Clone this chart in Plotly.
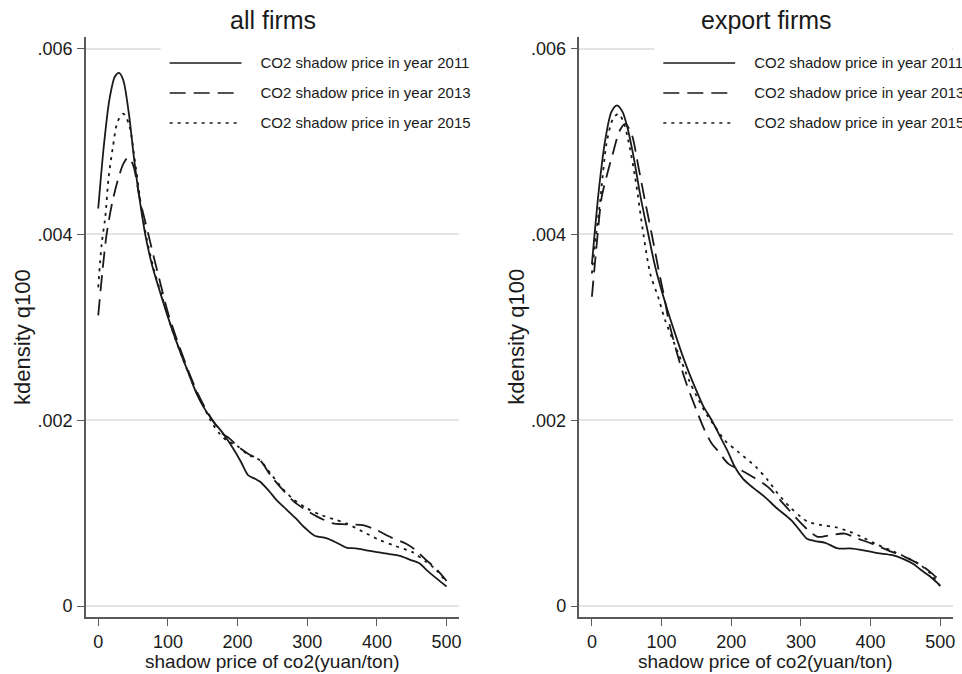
import plotly.graph_objects as go

# ---------------- data ----------------
panel_titles = ["all firms", "export firms"]
series_names = ["CO2 shadow price in year 2011",
                "CO2 shadow price in year 2013",
                "CO2 shadow price in year 2015"]
x_ticks = [0, 100, 200, 300, 400, 500]
y_ticks = [0, 0.002, 0.004, 0.006]
y_tick_labels = ["0", ".002", ".004", ".006"]
x_title = "shadow price of co2(yuan/ton)"
y_title = "kdensity q100"

# all firms
all_2011_x = [0, 8, 16, 24, 30, 36, 44, 52, 60, 68, 78, 90, 105, 117, 130, 141, 153, 165, 180, 195, 205, 215,
              225, 232, 245, 256, 270, 284, 297, 310, 327, 340, 356, 370, 385, 400, 418, 433, 447, 461, 471, 485, 500]
all_2011_y = [.00428, .00495, .00545, .00570, .00574, .00566, .00530, .00478, .00435, .00398, .00365, .00335,
              .00300, .00275, .00250, .00229, .00212, .00199, .00185, .00168, .00155, .00141, .00137, .00134,
              .00124, .00114, .00104, .00094, .00084, .00076, .00073, .00069, .00063, .00062, .00060, .00058,
              .00056, .00054, .00050, .00046, .00039, .00030, .00021]

all_2013_x = [0, 6, 12, 20, 28, 36, 43, 50, 60, 72, 80, 90, 100, 110, 120, 130, 141, 153, 165, 178, 189, 200,
              215, 232, 248, 265, 280, 299, 315, 325, 337, 355, 380, 399, 420, 442, 456, 470, 485, 500]
all_2013_y = [.00313, .00360, .00400, .00434, .00458, .00476, .00483, .00475, .00437, .00400, .00375, .00345,
              .00316, .00293, .00272, .00252, .00232, .00214, .00199, .00186, .00180, .00172, .00164, .00157,
              .00140, .00125, .00113, .00103, .00096, .000925, .00089, .00088, .00087, .00082, .00074, .00067,
              .00060, .00050, .00040, .00027]

all_2015_x = [0, 5, 10, 15, 21, 28, 36, 44, 54, 62, 70, 80, 92, 105, 117, 130, 141, 153, 165, 175, 185, 200,
              215, 232, 248, 265, 280, 300, 320, 340, 356, 380, 404, 425, 451, 470, 485, 500]
all_2015_y = [.00343, .00390, .00418, .00462, .00494, .00522, .00530, .00519, .00472, .00428, .00394, .00362,
              .00332, .00300, .00275, .00250, .00230, .00212, .00195, .00185, .00178, .00172, .00163, .00157,
              .00142, .00126, .00115, .00105, .00098, .00093, .00089, .00080, .00071, .00065, .00058, .00048,
              .00039, .00025]

# export firms
exp_2011_x = [0, 10, 19, 28, 36, 44, 52, 60, 70, 81, 90, 98, 110, 120, 129, 140, 150, 160, 172, 185, 196, 205,
              217, 232, 248, 266, 286, 300, 308, 320, 335, 353, 370, 390, 410, 430, 449, 462, 472, 485, 500]
exp_2011_y = [.00368, .00448, .00501, .00532, .00539, .00532, .00512, .00483, .00440, .00400, .00368, .00345,
              .00315, .00292, .00272, .00250, .00232, .00215, .00200, .00181, .00165, .00150, .00137, .00127,
              .001175, .00105, .000925, .00080, .000728, .00070, .00068, .00062, .00062, .00060, .00057, .00055,
              .00050, .00045, .00039, .00032, .00022]

exp_2013_x = [0, 7, 14, 22, 30, 40, 48, 57, 67, 76, 86, 96, 104, 110, 120, 134, 150, 162, 172, 181, 196, 215,
              233, 253, 275, 296, 310, 324, 340, 363, 380, 401, 425, 449, 470, 485, 500]
exp_2013_y = [.00333, .00390, .00440, .00465, .00487, .00512, .00519, .00508, .00472, .00437, .00400, .00361,
              .00332, .00308, .00278, .00243, .00211, .00189, .00175, .00167, .00153, .00146, .00138, .00128,
              .00110, .000925, .00082, .000745, .00076, .00078, .00073, .000674, .00060, .00053, .00045, .00037,
              .00027]

exp_2015_x = [0, 6, 12, 21, 30, 38, 45, 52, 62, 74, 84, 95, 105, 124, 140, 153, 165, 177, 191, 210, 235, 252,
              267, 285, 300, 310, 330, 349, 370, 387, 410, 434, 455, 472, 487, 500]
exp_2015_y = [.00358, .00400, .00437, .00498, .00524, .00530, .00522, .00502, .00462, .00400, .00357, .00333,
              .00308, .00272, .00242, .00222, .00206, .00193, .00178, .00166, .00150, .00136, .00121, .00106,
              .00096, .000907, .00087, .00085, .00080, .000745, .00066, .000584, .00051, .00044, .00034, .00021]

panels = [
    [(all_2011_x, all_2011_y), (all_2013_x, all_2013_y), (all_2015_x, all_2015_y)],
    [(exp_2011_x, exp_2011_y), (exp_2013_x, exp_2013_y), (exp_2015_x, exp_2015_y)],
]

# ---------------- styling / layout ----------------
W, H = 962, 674
FONT = "Arial, 'Liberation Sans', Helvetica, sans-serif"
INK = "#1a1a1a"
AXIS = "#5a5a5a"
GRID = "#e4e4e4"
dashes = ["solid", "16px,8px", "3px,5px"]

def px(x):
    return x / W

def py(y):
    return 1 - y / H

plot_left = [86, 580.7]
plot_w = 374.3
plot_top, plot_bot = 37, 617
x_range = [-17.8, 518.3]
y_range = [-0.000118, 0.006126]

fig = go.Figure()
for p, series in enumerate(panels):
    xa = "x" if p == 0 else "x2"
    ya = "y" if p == 0 else "y2"
    for s, (xs, ys) in enumerate(series):
        fig.add_trace(go.Scatter(
            x=xs, y=ys, mode="lines", name=series_names[s], showlegend=False,
            line=dict(color=INK, width=1.8, dash=dashes[s], shape="spline", smoothing=0.8),
            xaxis=xa, yaxis=ya, hoverinfo="skip"))

axis_common_x = dict(range=x_range, tickvals=x_ticks, ticks="outside", ticklen=7, tickwidth=1.3,
                     tickcolor=AXIS, showline=True, linecolor=AXIS, linewidth=1.5, showgrid=False,
                     zeroline=False, tickfont=dict(family=FONT, size=18, color=INK), ticklabelstandoff=1)
axis_common_y = dict(range=y_range, tickvals=y_ticks, ticktext=y_tick_labels, ticks="outside", ticklen=7,
                     tickwidth=1.3, tickcolor=AXIS, showline=True, linecolor=AXIS, linewidth=1.5,
                     showgrid=True, gridcolor=GRID, gridwidth=1.5, zeroline=False,
                     tickfont=dict(family=FONT, size=18, color=INK), ticklabelstandoff=1)

fig.update_layout(
    width=W, height=H, margin=dict(l=0, r=0, t=0, b=0),
    paper_bgcolor="white", plot_bgcolor="white", showlegend=False,
    xaxis=dict(domain=[px(plot_left[0]), px(plot_left[0] + plot_w)], anchor="y", **axis_common_x),
    yaxis=dict(domain=[py(plot_bot), py(plot_top)], anchor="x", **axis_common_y),
    xaxis2=dict(domain=[px(plot_left[1]), px(plot_left[1] + plot_w)], anchor="y2", **axis_common_x),
    yaxis2=dict(domain=[py(plot_bot), py(plot_top)], anchor="x2", **axis_common_y),
)

shapes = []
annotations = []
for p in range(2):
    L = plot_left[p]
    # subplot title
    annotations.append(dict(text=panel_titles[p], x=px(L + plot_w / 2), y=py(20), xref="paper", yref="paper",
                            xanchor="center", yanchor="middle", showarrow=False,
                            font=dict(family=FONT, size=25, color=INK)))
    # axis titles
    annotations.append(dict(text=x_title, x=px(L + plot_w / 2 - 0.5), y=py(661), xref="paper", yref="paper",
                            xanchor="center", yanchor="middle", showarrow=False,
                            font=dict(family=FONT, size=19, color=INK)))
    annotations.append(dict(text=y_title, x=px(L - 64), y=py(337), xref="paper", yref="paper",
                            xanchor="center", yanchor="middle", showarrow=False, textangle=-90,
                            font=dict(family=FONT, size=22, color=INK)))
    # legend box (white) and entries
    lx0 = L + 75
    shapes.append(dict(type="rect", xref="paper", yref="paper", x0=px(lx0), x1=px(L + plot_w - 1),
                       y0=py(140), y1=py(42), fillcolor="white", line=dict(width=0), layer="above"))
    for s in range(3):
        yy = 63 + 30 * s
        shapes.append(dict(type="line", xref="paper", yref="paper", x0=px(lx0 + 9), x1=px(lx0 + 81),
                           y0=py(yy), y1=py(yy), line=dict(color=INK, width=1.7, dash=dashes[s]),
                           layer="above"))
        # legend text as a shape label so it can run past the figure edge (as in the reference)
        ty = yy - 2
        shapes.append(dict(type="rect", xref="paper", yref="paper", x0=px(lx0 + 97), x1=px(lx0 + 97 + 260),
                           y0=py(ty + 9), y1=py(ty - 9), line=dict(width=0), fillcolor="rgba(0,0,0,0)",
                           layer="above",
                           label=dict(text=series_names[s], textposition="middle left", padding=0,
                                      font=dict(family=FONT, size=15, color=INK))))

fig.update_layout(shapes=shapes, annotations=annotations)
fig.write_html("out.html")
